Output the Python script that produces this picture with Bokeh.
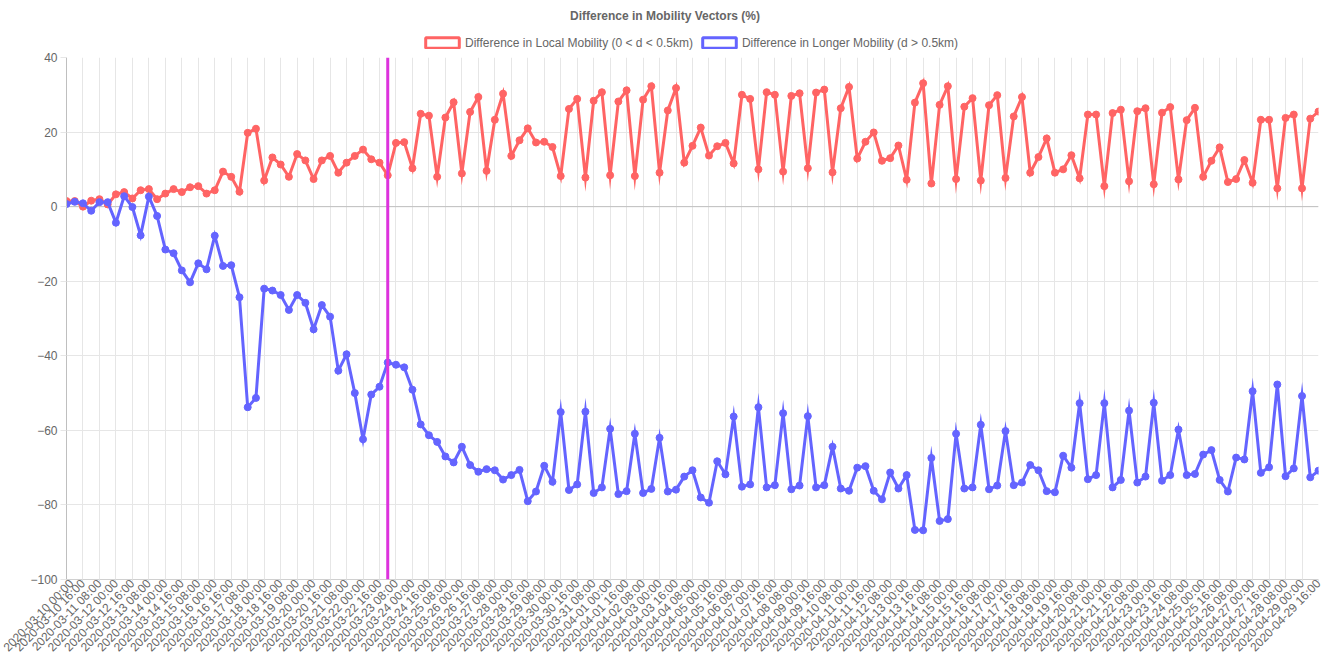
import pandas as pd
from bokeh.plotting import figure
from bokeh.layouts import column
from bokeh.models import (Range1d, FixedTicker, Span, Label, Legend, LegendItem)
from bokeh.embed import file_html
from bokeh.resources import INLINE

# ---------------- data ----------------
timestamps = list(pd.date_range("2020-03-10 00:00", periods=153, freq="8h").strftime("%Y-%m-%d %H:%M"))

local_mobility = [
    1.5, 1.5, 0.0, 1.6, 2.0, 0.6, 3.3, 3.9, 2.2, 4.4,
    4.7, 2.0, 3.5, 4.7, 3.9, 5.2, 5.5, 3.5, 4.4, 9.4,
    8.0, 4.0, 19.8, 20.9, 7.0, 13.2, 11.3, 8.0, 14.1, 12.4,
    7.4, 12.4, 13.6, 9.1, 11.8, 13.6, 15.3, 12.7, 11.8, 8.4,
    17.1, 17.3, 10.3, 24.9, 24.4, 8.0, 23.9, 28.0, 8.9, 25.4,
    29.4, 9.6, 23.3, 30.3, 13.6, 17.8, 21.0, 17.2, 17.4, 16.0,
    8.2, 26.2, 28.9, 7.8, 28.4, 30.7, 8.4, 28.2, 31.2, 8.2,
    28.7, 32.3, 9.1, 25.8, 31.8, 11.8, 16.3, 21.2, 13.7, 16.2,
    17.1, 11.6, 30.0, 28.9, 10.0, 30.7, 30.0, 9.4, 29.7, 30.4,
    10.3, 30.6, 31.4, 9.2, 26.4, 32.1, 12.9, 17.4, 19.9, 12.3,
    13.0, 16.4, 7.2, 27.9, 33.1, 6.2, 27.3, 32.3, 7.4, 26.8,
    29.1, 7.0, 27.2, 29.9, 7.7, 24.2, 29.4, 9.1, 13.3, 18.3,
    9.1, 10.0, 13.8, 7.6, 24.7, 24.7, 5.5, 25.1, 26.0, 6.8,
    25.6, 26.4, 6.0, 25.2, 26.7, 7.3, 23.2, 26.5, 8.0, 12.3,
    15.9, 6.6, 7.4, 12.5, 6.4, 23.3, 23.3, 4.9, 23.8, 24.7,
    4.9, 23.6, 25.5,
]

longer_mobility = [
    0.7, 1.3, 0.9, -1.1, 1.2, 1.2, -4.3, 2.8, -0.1, -7.7,
    2.7, -2.5, -11.5, -12.5, -17.1, -20.3, -15.2, -16.8, -7.8, -15.9,
    -15.7, -24.3, -53.8, -51.3, -22.0, -22.5, -23.7, -27.7, -23.7, -25.8,
    -32.9, -26.4, -29.5, -44.0, -39.6, -50.0, -62.4, -50.4, -48.3, -41.8,
    -42.4, -43.1, -49.1, -58.4, -61.3, -63.1, -67.0, -68.6, -64.4, -69.3,
    -71.1, -70.4, -70.7, -73.2, -72.0, -70.6, -79.0, -76.4, -69.5, -73.8,
    -55.1, -76.0, -74.5, -55.0, -76.8, -75.3, -59.6, -77.1, -76.3, -60.9,
    -76.8, -75.7, -62.0, -76.4, -75.9, -72.4, -70.7, -78.0, -79.4, -68.3,
    -71.8, -56.3, -75.1, -74.5, -53.8, -75.3, -74.7, -55.4, -75.8, -74.8,
    -56.2, -75.3, -74.7, -64.4, -75.6, -76.2, -70.0, -69.6, -76.2, -78.5,
    -71.3, -75.6, -72.0, -86.7, -86.8, -67.4, -84.3, -83.8, -60.9, -75.6,
    -75.3, -58.5, -75.8, -74.8, -60.2, -74.7, -74.0, -69.3, -70.7, -76.3,
    -76.6, -66.8, -70.0, -52.7, -73.1, -72.0, -52.7, -75.3, -73.3, -54.7,
    -74.0, -72.4, -52.6, -73.5, -72.0, -59.8, -72.0, -71.7, -66.5, -65.3,
    -73.3, -76.4, -67.3, -67.8, -49.5, -71.4, -69.9, -47.7, -72.3, -70.2,
    -50.8, -72.6, -70.8,
]

y_ticks = [-100, -80, -60, -40, -20, 0, 20, 40]
label_every = 2
event_time = "2020-03-23 00:00"

title_text = "Difference in Mobility Vectors (%)"
local_label = "Difference in Local Mobility (0 < d < 0.5km)"
longer_label = "Difference in Longer Mobility (d > 0.5km)"

# ---------------- style ----------------
FONT = "Liberation Sans"
RED = "#ff6464"
BLUE = "#6464ff"
MAGENTA = "#dd33dd"
GRID = "#e6e6e6"
TXT = "#666666"
W = 1332
HEAD_H = 50
LEFT = 66

x = list(range(len(timestamps)))
tick_idx = x[::label_every]
tick_labels = {i: timestamps[i] for i in tick_idx}
nan = float("nan")

# ---------------- header: title + legend ----------------
head = figure(width=W, height=HEAD_H, output_backend="svg", toolbar_location=None,
              x_axis_type=None, y_axis_type=None, min_border=0,
              x_range=Range1d(0, W), y_range=Range1d(0, HEAD_H))
head.outline_line_color = None
head.grid.visible = False
head.add_layout(Label(x=664.5 - LEFT, y=HEAD_H - 15, x_units="screen", y_units="screen",
                      text=title_text, text_align="center", text_baseline="middle",
                      text_font=FONT, text_font_size="12px", text_font_style="bold",
                      text_color=TXT))
r_local = head.quad(left=[nan], right=[nan], top=[nan], bottom=[nan],
                    fill_color="white", line_color=RED, line_width=3)
r_longer = head.quad(left=[nan], right=[nan], top=[nan], bottom=[nan],
                     fill_color="white", line_color=BLUE, line_width=3)
legend = Legend(items=[LegendItem(label=local_label, renderers=[r_local]),
                       LegendItem(label=longer_label, renderers=[r_longer])],
                orientation="horizontal", location=(421 - LEFT, 0.5), padding=0, margin=0,
                spacing=5, glyph_width=42, glyph_height=13, label_height=13,
                label_standoff=2, label_text_font=FONT, label_text_font_size="12px",
                label_text_color=TXT, label_text_baseline="middle",
                border_line_color=None, background_fill_alpha=0)
head.add_layout(legend)

# ---------------- main chart ----------------
p = figure(width=W, height=662 - HEAD_H, output_backend="svg", toolbar_location=None,
           x_range=Range1d(0, len(timestamps) - 1), y_range=Range1d(y_ticks[0], y_ticks[-1]),
           min_border_left=LEFT, min_border_right=14, min_border_top=57 - HEAD_H,
           min_border_bottom=81)
p.outline_line_color = None
p.background_fill_color = "white"
p.border_fill_color = "white"

p.yaxis.ticker = FixedTicker(ticks=y_ticks, minor_ticks=[])
p.yaxis.major_label_text_font = FONT
p.yaxis.major_label_text_font_size = "12px"
p.yaxis.major_label_text_color = TXT
p.yaxis.major_tick_out = 6
p.yaxis.major_tick_in = 0
p.yaxis.major_label_standoff = 3
p.yaxis.major_tick_line_color = GRID
p.yaxis.minor_tick_line_color = None
p.yaxis.axis_line_color = "#bfbfbf"

p.xaxis.ticker = FixedTicker(ticks=tick_idx, minor_ticks=[])
p.xaxis.major_label_overrides = tick_labels
p.xaxis.major_label_orientation = 0.8
p.xaxis.major_label_text_font = FONT
p.xaxis.major_label_text_font_size = "12px"
p.xaxis.major_label_text_color = TXT
p.xaxis.major_label_standoff = 0
p.xaxis.major_tick_out = 2
p.xaxis.major_tick_in = 0
p.xaxis.major_tick_line_color = GRID
p.xaxis.minor_tick_line_color = None
p.xaxis.axis_line_color = "#d0d0d0"

p.xgrid.grid_line_color = GRID
p.ygrid.grid_line_color = GRID

p.add_layout(Span(location=0, dimension="width", line_color="#bfbfbf", line_width=1, level="underlay"))

p.line(x, local_mobility, line_color=RED, line_width=3, line_join="miter")
p.scatter(x, local_mobility, size=7, fill_color=RED, line_color=RED)
p.line(x, longer_mobility, line_color=BLUE, line_width=3, line_join="miter")
p.scatter(x, longer_mobility, size=7, fill_color=BLUE, line_color=BLUE)

p.add_layout(Span(location=timestamps.index(event_time), dimension="height",
                  line_color=MAGENTA, line_width=3))

layout = column(head, p, spacing=0)
open("out.html", "w").write(file_html(layout, INLINE))
